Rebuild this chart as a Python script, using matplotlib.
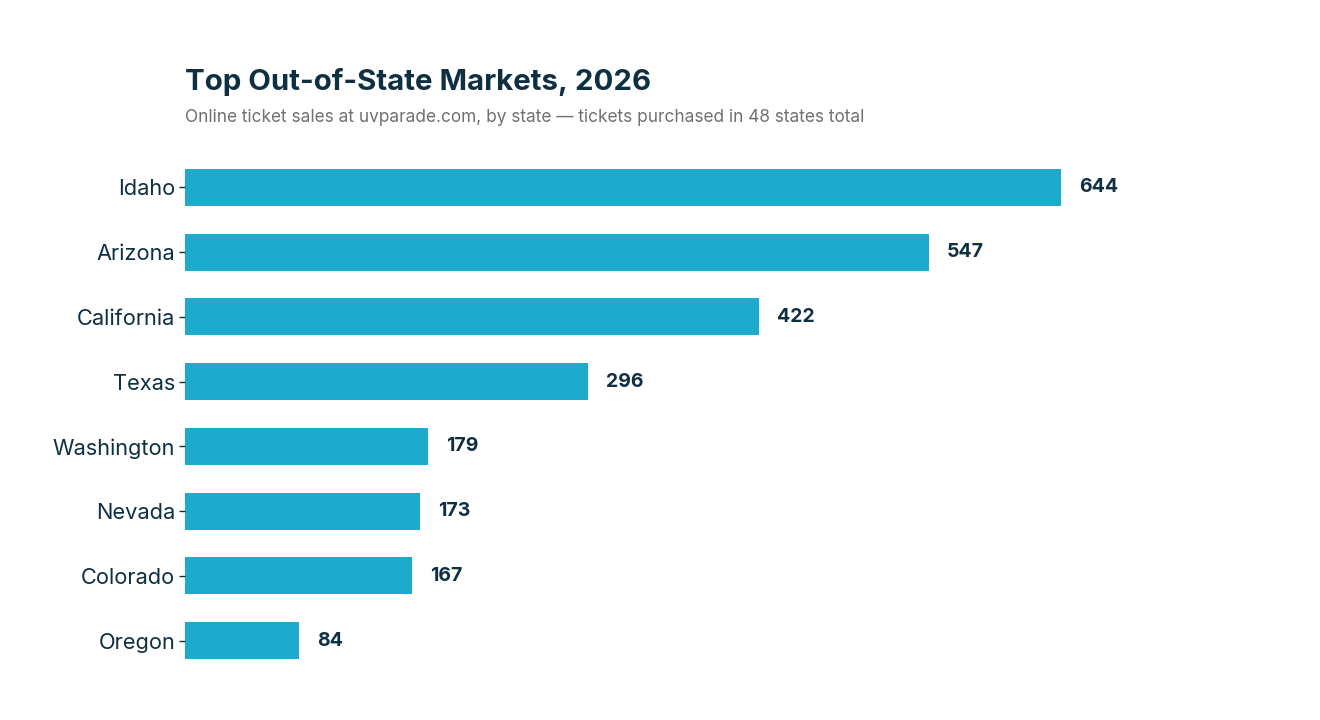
import matplotlib
matplotlib.use("Agg")
import matplotlib.pyplot as plt

states = ["Idaho", "Arizona", "California", "Texas", "Washington", "Nevada", "Colorado", "Oregon"]
tickets = [644, 547, 422, 296, 179, 173, 167, 84]

title = "Top Out-of-State Markets, 2026"
subtitle = "Online ticket sales at uvparade.com, by state \u2014 tickets purchased in 48 states total"

BAR = "#1CABCD"
DARK = "#0E3042"
GRAY = "#707070"

plt.rcParams['font.family'] = ['Inter', 'DejaVu Sans']

W, H = 1320, 720
fig = plt.figure(figsize=(W/100, H/100), dpi=100)
left, right = 185, 1137
top, bottom = 155.1, 672.9
ax = fig.add_axes([left/W, 1 - bottom/H, (right-left)/W, (bottom-top)/H])

ypos = list(range(len(states)))
ax.barh(ypos, tickets, height=0.57, color=BAR)
ax.set_xlim(0, 700)
ax.set_ylim(len(states) - 0.5, -0.5)
ax.set_yticks(ypos)
ax.set_yticklabels(states, fontsize=15.7, color=DARK)
ax.tick_params(axis='y', length=4, width=1, color=DARK, pad=3)
ax.set_xticks([])
for s in ax.spines.values():
    s.set_visible(False)

for y, v in zip(ypos, tickets):
    ax.annotate(str(v), (v, y), xytext=(18, 0), textcoords='offset pixels',
                va='center', ha='left', fontsize=14, fontweight='bold', color=DARK)

fig.text(185/W, 1 - 82/H, title, fontsize=21.2, fontweight='bold', color=DARK, va='center', ha='left')
fig.text(185/W, 1 - 118/H, subtitle, fontsize=12.4, color=GRAY, va='center', ha='left')

fig.savefig("out.png", dpi=100, facecolor="white")
